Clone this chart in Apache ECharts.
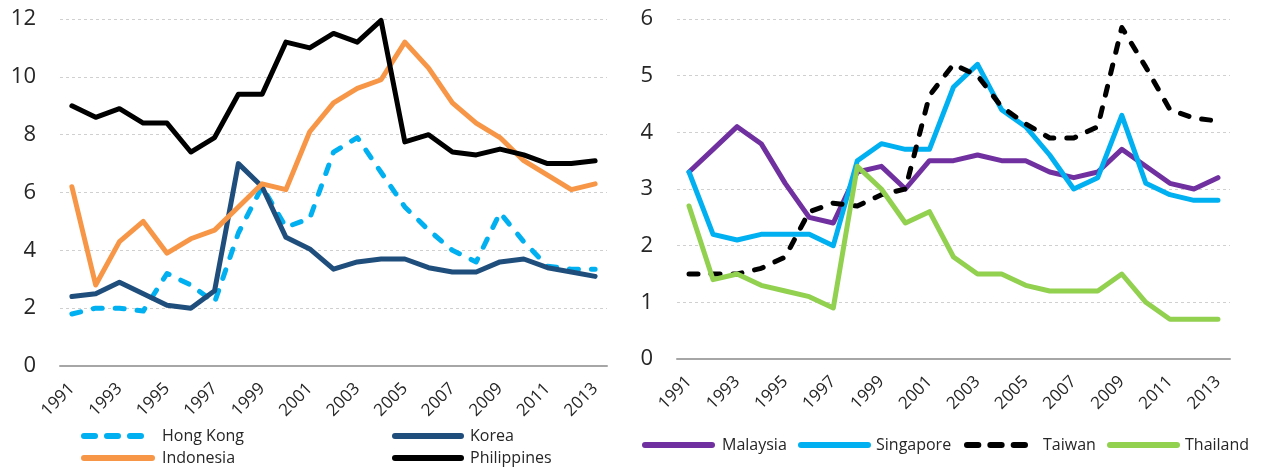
<!DOCTYPE html>
<html>
<head>
<meta charset="utf-8">
<script src="https://cdn.jsdelivr.net/npm/echarts@6/dist/echarts.min.js"></script>
<style>
  html, body { margin: 0; padding: 0; background: #fff; }
  #chart { width: 1266px; height: 468px; }
</style>
</head>
<body>
<div id="chart"></div>
<script>
// Years on the category axis
const years = ['1991','1992','1993','1994','1995','1996','1997','1998','1999','2000','2001','2002',
               '2003','2004','2005','2006','2007','2008','2009','2010','2011','2012','2013'];

// Left panel
const hongKong    = [1.8, 2.0, 2.0, 1.9, 3.2, 2.8, 2.2, 4.6, 6.2, 4.8, 5.1, 7.4, 7.9, 6.7, 5.5, 4.7, 4.0, 3.6, 5.3, 4.3, 3.45, 3.35, 3.35];
const korea       = [2.4, 2.5, 2.9, 2.5, 2.1, 2.0, 2.6, 7.0, 6.2, 4.45, 4.05, 3.35, 3.6, 3.7, 3.7, 3.4, 3.25, 3.25, 3.6, 3.7, 3.4, 3.25, 3.1];
const indonesia   = [6.2, 2.8, 4.3, 5.0, 3.9, 4.4, 4.7, 5.5, 6.3, 6.1, 8.1, 9.1, 9.6, 9.9, 11.2, 10.3, 9.1, 8.4, 7.9, 7.1, 6.6, 6.1, 6.3];
const philippines = [9.0, 8.6, 8.9, 8.4, 8.4, 7.4, 7.9, 9.4, 9.4, 11.2, 11.0, 11.5, 11.2, 11.95, 7.75, 8.0, 7.4, 7.3, 7.5, 7.3, 7.0, 7.0, 7.1];

// Right panel
const malaysia  = [3.3, 3.7, 4.1, 3.8, 3.1, 2.5, 2.4, 3.3, 3.4, 3.0, 3.5, 3.5, 3.6, 3.5, 3.5, 3.3, 3.2, 3.3, 3.7, 3.4, 3.1, 3.0, 3.2];
const singapore = [3.3, 2.2, 2.1, 2.2, 2.2, 2.2, 2.0, 3.5, 3.8, 3.7, 3.7, 4.8, 5.2, 4.4, 4.1, 3.6, 3.0, 3.2, 4.3, 3.1, 2.9, 2.8, 2.8];
const taiwan    = [1.5, 1.5, 1.5, 1.6, 1.8, 2.6, 2.75, 2.7, 2.9, 3.0, 4.65, 5.2, 5.0, 4.45, 4.15, 3.9, 3.9, 4.1, 5.85, 5.15, 4.4, 4.25, 4.2];
const thailand  = [2.7, 1.4, 1.5, 1.3, 1.2, 1.1, 0.9, 3.4, 3.0, 2.4, 2.6, 1.8, 1.5, 1.5, 1.3, 1.2, 1.2, 1.2, 1.5, 1.0, 0.7, 0.7, 0.7];

const leftTicks = { min: 0, max: 12, interval: 2 };
const rightTicks = { min: 0, max: 6, interval: 1 };

const FONT = '"Open Sans", "Liberation Sans", sans-serif';
const TEXT = '#262626';

function xAxis(gridIndex) {
  return {
    type: 'category',
    gridIndex,
    data: years,
    boundaryGap: true,
    axisLine: { show: true, lineStyle: { color: '#a6a6a6', width: 2 } },
    axisTick: { show: false },
    axisLabel: {
      interval: 1,
      rotate: 45,
      margin: 20,
      fontFamily: FONT,
      fontSize: 17,
      color: TEXT
    },
    splitLine: { show: false }
  };
}

function yAxis(gridIndex, t) {
  return {
    type: 'value',
    gridIndex,
    min: t.min,
    max: t.max,
    interval: t.interval,
    axisLine: { show: false },
    axisTick: { show: false },
    axisLabel: { margin: 24, fontFamily: FONT, fontSize: 22, color: TEXT },
    splitLine: { show: true, lineStyle: { color: '#d0d0d0', width: 1, type: [3, 3] } }
  };
}

function line(name, data, color, idx, dashed) {
  return {
    name,
    type: 'line',
    xAxisIndex: idx,
    yAxisIndex: idx,
    data,
    symbol: 'none',
    smooth: false,
    lineStyle: {
      color,
      width: 5,
      cap: 'round',
      join: 'round',
      type: dashed ? [9, 13] : 'solid'
    },
    itemStyle: { color }
  };
}

// Legend icons: a rounded bar, or three rounded dashes
function bar(a, b) {
  return 'M' + (a + 3) + ',0H' + (b - 3) + 'A3,3,0,0,1,' + (b - 3) + ',6H' + (a + 3) + 'A3,3,0,0,1,' + (a + 3) + ',0Z';
}
function solidIcon(w) { return 'path://' + bar(0, w); }
function dashIcon(w) {
  const d = (w - 12) / 3;
  return 'path://' + bar(0, d) + bar(d + 6, 2 * d + 6) + bar(2 * d + 12, w);
}

function legendItem(name, left, top, width, icon, pad) {
  return {
    left, top,
    padding: 0,
    itemWidth: width,
    itemHeight: 6,
    itemStyle: { borderWidth: 0 },
    textStyle: { fontFamily: FONT, fontSize: 16, lineHeight: 18, color: TEXT, padding: [0, 0, 0, pad] },
    data: [{ name, icon }]
  };
}

const option = {
  backgroundColor: '#ffffff',
  animation: false,
  grid: [
    { left: 60, top: 19, width: 547, height: 347 },
    { left: 677, top: 19, width: 553, height: 340 }
  ],
  xAxis: [xAxis(0), xAxis(1)],
  yAxis: [yAxis(0, leftTicks), yAxis(1, rightTicks)],
  legend: [
    legendItem('Hong Kong',   81,  427, 63, dashIcon(63), 13),
    legendItem('Indonesia',   81,  449, 74, solidIcon(74), 2),
    legendItem('Korea',       392, 427, 72, solidIcon(72), 1),
    legendItem('Philippines', 392, 449, 72, solidIcon(72), 1),
    legendItem('Malaysia',    642, 436, 73, solidIcon(73), 2),
    legendItem('Singapore',   798, 436, 73, solidIcon(73), 0),
    legendItem('Taiwan',      964, 436, 64, dashIcon(64), 10),
    legendItem('Thailand',   1107, 436, 73, solidIcon(73), 0)
  ],
  series: [
    line('Hong Kong', hongKong, '#00b0f0', 0, true),
    line('Korea', korea, '#1f4e7d', 0, false),
    line('Indonesia', indonesia, '#f79646', 0, false),
    line('Philippines', philippines, '#000000', 0, false),
    line('Malaysia', malaysia, '#7030a0', 1, false),
    line('Singapore', singapore, '#00b0f0', 1, false),
    line('Taiwan', taiwan, '#000000', 1, true),
    line('Thailand', thailand, '#92d050', 1, false)
  ]
};

const chart = echarts.init(document.getElementById('chart'), null, { renderer: 'canvas' });
chart.setOption(option);
</script>
</body>
</html>
